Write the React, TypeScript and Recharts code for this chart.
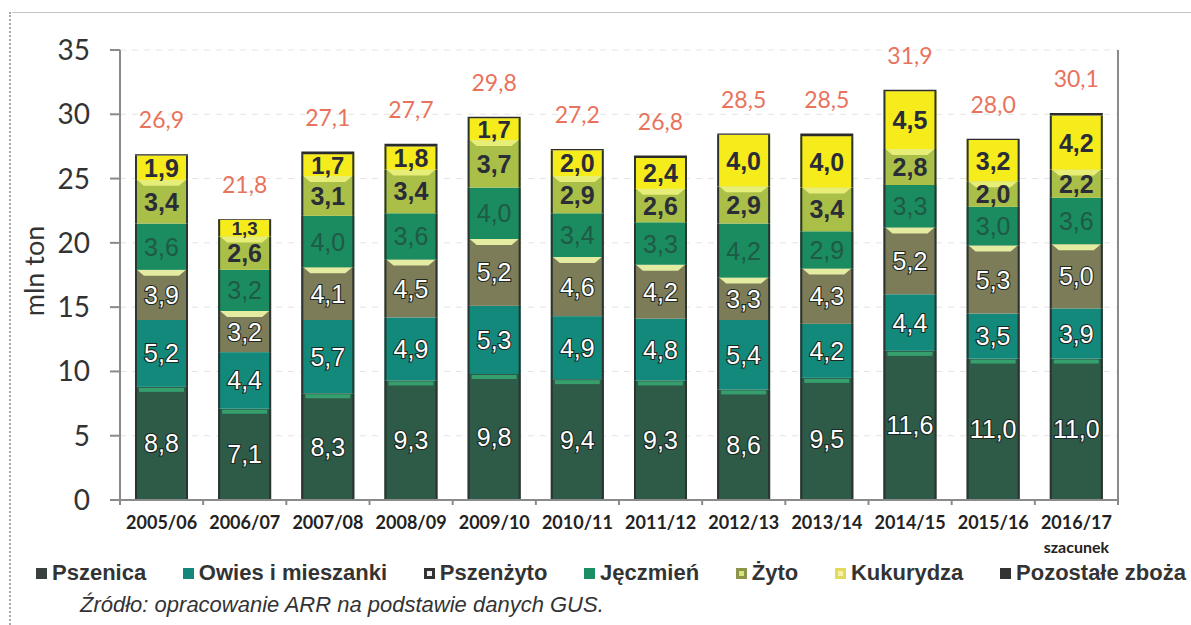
import React from 'react';
import { BarChart, Bar, XAxis, YAxis, CartesianGrid, Legend, LabelList } from 'recharts';

const categories = ['2005/06', '2006/07', '2007/08', '2008/09', '2009/10', '2010/11', '2011/12', '2012/13', '2013/14', '2014/15', '2015/16', '2016/17'];
const pszenica = [8.8, 7.1, 8.3, 9.3, 9.8, 9.4, 9.3, 8.6, 9.5, 11.6, 11.0, 11.0];
const owies = [5.2, 4.4, 5.7, 4.9, 5.3, 4.9, 4.8, 5.4, 4.2, 4.4, 3.5, 3.9];
const pszenzyto = [3.9, 3.2, 4.1, 4.5, 5.2, 4.6, 4.2, 3.3, 4.3, 5.2, 5.3, 5.0];
const jeczmien = [3.6, 3.2, 4.0, 3.6, 4.0, 3.4, 3.3, 4.2, 2.9, 3.3, 3.0, 3.6];
const zyto = [3.4, 2.6, 3.1, 3.4, 3.7, 2.9, 2.6, 2.9, 3.4, 2.8, 2.0, 2.2];
const kukurydza = [1.9, 1.3, 1.7, 1.8, 1.7, 2.0, 2.4, 4.0, 4.0, 4.5, 3.2, 4.2];
const pozostale = [0.1, 0.05, 0.2, 0.2, 0.1, 0.1, 0.2, 0.1, 0.2, 0.1, 0.1, 0.2];
const totals = [26.9, 21.8, 27.1, 27.7, 29.8, 27.2, 26.8, 28.5, 28.5, 31.9, 28.0, 30.1];
const yTicks = [0, 5, 10, 15, 20, 25, 30, 35];
const estimateNote = 'szacunek';
const legendOrder = ['Pszenica', 'Owies i mieszanki', 'Pszenżyto', 'Jęczmień', 'Żyto', 'Kukurydza', 'Pozostałe zboża'];

const data = categories.map((cat, i) => ({
  cat,
  pszenica: pszenica[i],
  owies: owies[i],
  pszenzyto: pszenzyto[i],
  jeczmien: jeczmien[i],
  zyto: zyto[i],
  kukurydza: kukurydza[i],
  pozostale: pozostale[i],
  total: totals[i],
}));

const ARIAL = "'Liberation Sans', Arial, sans-serif";
const CAL = "Lato, 'Open Sans', sans-serif";
const PLOT_LEFT = 120;
const PLOT_RIGHT = 1118;
const BAND = (PLOT_RIGHT - PLOT_LEFT) / categories.length;

const legendMarker: Record<string, [string, string | null]> = {
  'Pszenica': ['#3a403d', null],
  'Owies i mieszanki': ['#14877a', null],
  'Pszenżyto': ['#333333', '#f0f0f0'],
  'Jęczmień': ['#1a8f62', null],
  'Żyto': ['#8d944c', '#d9e47a'],
  'Kukurydza': ['#e3d95a', '#f6f1a6'],
  'Pozostałe zboża': ['#333333', null],
};

const fmt = (v: number) => v.toFixed(1).replace('.', ',');

function makeShape(highlight: string | null, kind: 'band' | 'bevel' | null) {
  return (props: any) => {
    const { x, y, width, height, fill } = props;
    if (!height || height <= 0) return <g />;
    return (
      <g>
        <rect x={x} y={y} width={width} height={height} fill={fill} />
        {highlight && kind === 'band' && height > 6 && (
          <rect x={x + 4} y={y + 1} width={width - 8} height={4} fill={highlight} />
        )}
        {highlight && kind === 'bevel' && height > 8 && (
          <polygon
            points={`${x + 2},${y} ${x + width - 2},${y} ${x + width - 9},${y + 6} ${x + 9},${y + 6}`}
            fill={highlight}
          />
        )}
        <line x1={x + 1} x2={x + 1} y1={y} y2={y + height} stroke="#2b3430" strokeWidth={2} />
        <line x1={x + width - 1} x2={x + width - 1} y1={y} y2={y + height} stroke="#2b3430" strokeWidth={2} />
      </g>
    );
  };
}

function segLabel(kind: 'white' | 'green' | 'dark') {
  return (props: any) => {
    const { x, y, width, height, value } = props;
    if (value == null || !height) return null;
    const fs = Math.min(25, Math.max(16, Math.abs(height) + 2));
    const common = {
      x: x + width / 2,
      y: y + height / 2,
      dy: '0.36em',
      textAnchor: 'middle' as const,
      fontFamily: ARIAL,
      fontSize: fs,
    };
    if (kind === 'white') {
      return (
        <text {...common} fill="#ffffff" stroke="#1c2822" strokeWidth={2.2} style={{ paintOrder: 'stroke' }}>
          {fmt(value)}
        </text>
      );
    }
    if (kind === 'green') {
      return (
        <text {...common} fill="#1f5a45">
          {fmt(value)}
        </text>
      );
    }
    return (
      <text {...common} fill="#2a2d38" fontWeight={700}>
        {fmt(value)}
      </text>
    );
  };
}

const totalLabel = (props: any) => {
  const { x, y, width, value } = props;
  return (
    <text x={x + width / 2} y={y - 34} dy="0.36em" textAnchor="middle" fill="#e8735c" fontFamily={CAL} fontSize={23}>
      {fmt(value)}
    </text>
  );
};

const XTick = (props: any) => {
  const { x, y, payload, index } = props;
  const last = index === categories.length - 1;
  return (
    <g>
      <line x1={x - BAND / 2} x2={x - BAND / 2} y1={y} y2={y + 5} stroke="#8a8a8a" strokeWidth={2} />
      {last && <line x1={x + BAND / 2} x2={x + BAND / 2} y1={y} y2={y + 5} stroke="#8a8a8a" strokeWidth={2} />}
      <text x={x} y={y + 29} textAnchor="middle" fill="#222" fontFamily={CAL} fontWeight={700} fontSize={18}>
        {payload.value}
      </text>
      {last && (
        <text x={x} y={y + 53} textAnchor="middle" fill="#222" fontFamily={CAL} fontWeight={700} fontSize={16}>
          {estimateNote}
        </text>
      )}
    </g>
  );
};

const LegendContent = (props: any) => {
  const payload = [...(props.payload || [])].sort(
    (a: any, b: any) => legendOrder.indexOf(a.value) - legendOrder.indexOf(b.value)
  );
  return (
    <div
      style={{
        display: 'flex',
        justifyContent: 'space-between',
        alignItems: 'center',
        width: '100%',
        fontFamily: ARIAL,
        fontWeight: 700,
        fontSize: 22,
        color: '#333',
        lineHeight: '30px',
        whiteSpace: 'nowrap',
      }}
    >
      {payload.map((p: any) => {
        const m = legendMarker[p.value] || [p.color, null];
        return (
          <span key={p.value} style={{ display: 'flex', alignItems: 'center' }}>
            <span
              style={{
                width: 11,
                height: 11,
                background: m[0],
                marginRight: 5,
                display: 'inline-flex',
                alignItems: 'center',
                justifyContent: 'center',
              }}
            >
              {m[1] && <span style={{ width: 5, height: 5, background: m[1], display: 'inline-block' }} />}
            </span>
            {p.value}
          </span>
        );
      })}
    </div>
  );
};

const yLabel = (props: any) => {
  const vb = props.viewBox || { y: 50, height: 450 };
  const cy = vb.y + vb.height / 2 - 4;
  return (
    <text x={44} y={cy} transform={`rotate(-90, 44, ${cy})`} textAnchor="middle" fill="#333" fontFamily={CAL} fontSize={27}>
      mln ton
    </text>
  );
};

export default function App() {
  return (
    <div style={{ position: 'absolute', left: 0, top: 0, width: 1191, height: 625, background: '#fff', overflow: 'hidden' }}>
      <div style={{ position: 'absolute', left: 12, top: 12, width: 1179, height: 0, borderTop: '1.5px solid #c4c4c4' }} />
      <div style={{ position: 'absolute', left: 9, top: 12, width: 0, height: 613, borderLeft: '2px dotted #a8a8a8' }} />
      <BarChart
        width={1191}
        height={625}
        data={data}
        margin={{ top: 50, right: 0, left: 0, bottom: 0 }}
        barCategoryGap="18%"
      >
        <CartesianGrid yAxisId="left" horizontal vertical={false} stroke="#e4e4e4" strokeDasharray="6 6" />
        <XAxis
          dataKey="cat"
          height={125}
          tickSize={0}
          tickMargin={0}
          interval={0}
          axisLine={{ stroke: '#8a8a8a', strokeWidth: 2 }}
          tickLine={false}
          tick={<XTick />}
        />
        <YAxis
          yAxisId="left"
          width={120}
          domain={[0, 35]}
          ticks={yTicks}
          interval={0}
          tickSize={10}
          tickMargin={20}
          axisLine={{ stroke: '#8a8a8a', strokeWidth: 2 }}
          tickLine={{ stroke: '#8a8a8a', strokeWidth: 2 }}
          tick={{ fill: '#333', fontSize: 28, fontFamily: CAL }}
          label={yLabel}
        />
        <YAxis
          yAxisId="right"
          orientation="right"
          width={73}
          domain={[0, 35]}
          ticks={yTicks}
          interval={0}
          tickSize={8}
          tickMargin={24}
          axisLine={{ stroke: '#8a8a8a', strokeWidth: 2 }}
          tickLine={{ stroke: '#8a8a8a', strokeWidth: 2 }}
          tick={{ fill: '#333', fontSize: 28, fontFamily: CAL }}
        />
        <Legend
          layout="horizontal"
          verticalAlign="middle"
          align="center"
          content={<LegendContent />}
          wrapperStyle={{ left: 36, top: 558, width: 1150, height: 30 }}
        />
        <Bar dataKey="pszenica" name="Pszenica" stackId="a" yAxisId="left" fill="#2e5a48" isAnimationActive={false} shape={makeShape('#35a06e', 'band')}>
          <LabelList dataKey="pszenica" content={segLabel('white')} />
        </Bar>
        <Bar dataKey="owies" name="Owies i mieszanki" stackId="a" yAxisId="left" fill="#12897b" isAnimationActive={false} shape={makeShape(null, null)}>
          <LabelList dataKey="owies" content={segLabel('white')} />
        </Bar>
        <Bar dataKey="pszenzyto" name="Pszenżyto" stackId="a" yAxisId="left" fill="#7d7c59" isAnimationActive={false} shape={makeShape('#e3eca0', 'bevel')}>
          <LabelList dataKey="pszenzyto" content={segLabel('white')} />
        </Bar>
        <Bar dataKey="jeczmien" name="Jęczmień" stackId="a" yAxisId="left" fill="#1a8c60" isAnimationActive={false} shape={makeShape(null, null)}>
          <LabelList dataKey="jeczmien" content={segLabel('green')} />
        </Bar>
        <Bar dataKey="zyto" name="Żyto" stackId="a" yAxisId="left" fill="#a9bf47" isAnimationActive={false} shape={makeShape('#e6ee78', 'bevel')}>
          <LabelList dataKey="zyto" content={segLabel('dark')} />
        </Bar>
        <Bar dataKey="kukurydza" name="Kukurydza" stackId="a" yAxisId="left" fill="#f6ec1c" isAnimationActive={false} shape={makeShape(null, null)}>
          <LabelList dataKey="kukurydza" content={segLabel('dark')} />
        </Bar>
        <Bar dataKey="pozostale" name="Pozostałe zboża" stackId="a" yAxisId="left" fill="#2b2b2b" isAnimationActive={false}>
          <LabelList dataKey="total" content={totalLabel} />
        </Bar>
      </BarChart>
      <div
        style={{
          position: 'absolute',
          left: 80,
          top: 592,
          fontFamily: ARIAL,
          fontStyle: 'italic',
          fontSize: 22,
          color: '#333',
          whiteSpace: 'nowrap',
          lineHeight: '26px',
        }}
      >
        Źródło: opracowanie ARR na podstawie danych GUS.
      </div>
    </div>
  );
}
